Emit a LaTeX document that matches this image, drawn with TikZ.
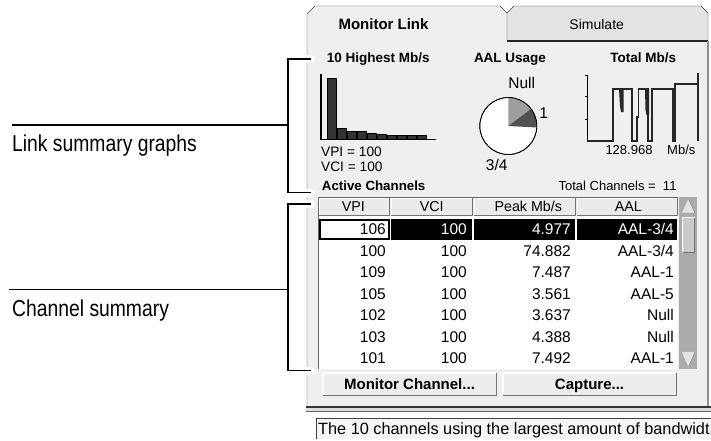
\documentclass[tikz,border=0pt]{standalone}
\usepackage{fontspec}
\setmainfont{Liberation Sans}
\newfontfamily\calloutfont[FakeStretch=0.84]{Liberation Sans}
\definecolor{panelgray}{HTML}{EFEFEF}
\definecolor{tabgray}{HTML}{E3E3E3}
\definecolor{troughgray}{HTML}{ABABAB}
\definecolor{thumbgray}{HTML}{CACACA}
\definecolor{edgegray}{HTML}{8E8E8E}

\begin{document}
\begin{tikzpicture}[x=1pt,y=-1pt,
    txt/.style={inner sep=0pt,font=\fontsize{#1}{#1}\selectfont},
    btxt/.style={inner sep=0pt,font=\fontsize{#1}{#1}\selectfont\bfseries},
    callout/.style={inner sep=0pt,anchor=base west,font=\calloutfont\fontsize{23}{23}\selectfont},
    lead/.style={line width=1.1pt},
    trace/.style={black!85,line width=1.6pt}]
    \useasboundingbox[fill=white] (0,0) rectangle (711,441);

    % panel and tabs
    \fill[panelgray] (307,410)--(307,14)--(315,6)--(500,6)--(507,13)--(507,41)--(708,41)--(708,410)--cycle;
    \fill[tabgray] (507,41)--(507,13)--(514,6)--(701,6)--(708,13)--(708,41)--cycle;
    \draw[black!75] (307,407)--(307,14)--(315,6)--(500,6)--(507,13)--(507,41);
    \draw[black!75] (507,13)--(514,6)--(701,6)--(708,13)--(708,41);
    \draw[black!85,line width=1.5pt] (507,41)--(708,41);
    \draw[edgegray,line width=2pt] (707.5,41)--(707.5,407);
    \fill[black!14] (306,407) rectangle (711,411);
    \draw[black!80,line width=1.2pt] (306,407)--(711,407);
    \draw[black!60] (306,411)--(711,411);
    \node[btxt=15,anchor=base] (tabmon) at (383.5,30) {Monitor Link};
    \node[txt=14,anchor=base] (tabsim) at (596.7,30) {Simulate};

    % status line
    \fill[black!4] (316,418) rectangle (711,439);
    \draw[black!75] (316,439)--(316,418)--(711,418);
    \node[txt=16.3,anchor=base west] (status) at (318,434) {The 10 channels using the largest amount of bandwidt};

    % graph titles
    \node[btxt=13.5,anchor=base] (hbar) at (378.3,63) {10 Highest Mb/s};
    \node[btxt=13.5,anchor=base] (hpie) at (510,63) {AAL Usage};
    \node[btxt=13.5,anchor=base] (htot) at (643.3,63) {Total Mb/s};

    % 10 highest
    \draw[line width=1.2pt] (321,74)--(321,139.3)--(436,139.3);
    \foreach \h [count=\i from 0] in {78,128,131,131,133,134.5,135,135.5,135.7,135.7}
      \draw[fill=black!80,line width=0.8pt] (327+10*\i,139.3) rectangle (336+10*\i,\h);
    \node[txt=13.7,anchor=base west] (vpi) at (321,156.5) {VPI = 100};
    \node[txt=13.7,anchor=base west] (vci) at (321,171.5) {VCI = 100};

    % AAL usage
    \coordinate (pie) at (508.3,126);
    \draw[fill=white] (pie) circle[radius=28.5];
    \fill[black!38] (pie)--++(-90:28.5) arc[start angle=-90,end angle=-37,radius=28.5]--cycle;
    \fill[black!68] (pie)--++(-37:28.5) arc[start angle=-37,end angle=3,radius=28.5]--cycle;
    \draw[line width=0.9pt] (pie) circle[radius=28.5];
    \node[txt=15.5,anchor=base] (pnull) at (521.7,88.5) {Null};
    \node[txt=15.5,anchor=base] (pone) at (543.8,118.5) {1};
    \node[txt=15.5,anchor=base] (pthree) at (496.7,170.5) {3/4};

    % total
    \draw[line width=1pt] (587.3,75)--(587.3,140.7);
    \foreach \t in {75,96.7,119.3}
      \draw (585,\t)--(587.3,\t);
    \draw[trace] (587.3,140.7)--(613,140.7)--(613,89.3)--(632,89.3)--(632,140.7)--(637,140.7)--(637,116.7)
      --(638.5,116.7)--(638.5,89.3)--(648,89.3)--(648,140.7)--(652,140.7)--(652,89.3)--(673,89.3)
      --(673,140.7)--(675,140.7)--(675,84)--(698,84);
    \draw[trace] (698,73.3)--(698,140.7);
    \fill[black!85] (619,89)--(620,106)--(621,112)--(623.5,112)--(623.5,89)--cycle;
    \fill[black!85] (645,89)--(645.5,110)--(646.5,115)--(649,115)--(649,89)--cycle;
    \node[txt=13,anchor=base] (tval) at (629,154) {128.968};
    \node[txt=13,anchor=base] (tunit) at (681.3,154) {Mb/s};

    % channel table
    \node[btxt=13.3,anchor=base west] (active) at (321.7,190) {Active Channels};
    \node[txt=13,anchor=base east] (total) at (676.7,190) {Total Channels =~~11};
    \fill[black!8] (318,197) rectangle (678,216);
    \foreach \a/\b in {318/390,390/473,473/576,576/678}{
      \draw[white] (\a+1,215)--(\a+1,198)--(\b-1,198);
      \draw[black!55] (\a+1,215.5)--(\b-0.5,215.5)--(\b-0.5,198);
    }
    \draw[black!60] (318,369)--(318,197)--(678,197);
    \fill[white] (318.5,216) rectangle (678,369);
    \node[txt=14.3,anchor=base] (cvpi) at (353.3,211) {VPI};
    \node[txt=14.3,anchor=base] (cvci) at (431.7,211) {VCI};
    \node[txt=14.3,anchor=base] (cpeak) at (528.3,211) {Peak Mb/s};
    \node[txt=14.3,anchor=base] (caal) at (628.3,211) {AAL};

    \fill[black] (390.5,218.5) rectangle (677,239.5);
    \draw[white,line width=1.2pt] (473,218.5)--(473,239.5) (576,218.5)--(576,239.5);
    \draw[line width=2pt] (320,219.5) rectangle (389,238.5);
    \node[txt=15.5,anchor=base east] (r0a) at (386,234.5) {106};
    \node[txt=15.5,anchor=base east,white] (r0b) at (467,234.5) {100};
    \node[txt=15.5,anchor=base east,white] (r0c) at (571,234.5) {4.977};
    \node[txt=15.5,anchor=base east,white] (r0d) at (674,234.5) {AAL-3/4};
    \foreach \va/\vb/\vc/\vd [count=\i] in {100/100/74.882/{AAL-3/4},109/100/7.487/AAL-1,
        105/100/3.561/AAL-5,102/100/3.637/Null,103/100/4.388/Null,101/100/7.492/AAL-1}{
      \node[txt=15.5,anchor=base east] (r\i a) at (386,234.5+21.5*\i) {\va};
      \node[txt=15.5,anchor=base east] (r\i b) at (467,234.5+21.5*\i) {\vb};
      \node[txt=15.5,anchor=base east] (r\i c) at (571,234.5+21.5*\i) {\vc};
      \node[txt=15.5,anchor=base east] (r\i d) at (674,234.5+21.5*\i) {\vd};
    }

    % scrollbar
    \fill[troughgray] (679,197) rectangle (697,369);
    \draw[black!15,fill=black!10] (682,213)--(688.5,199)--(695,213)--cycle;
    \draw[black!55] (682,213)--(695,213)--(688.5,199);
    \fill[thumbgray] (682,217) rectangle (695,253);
    \draw[white] (682.5,252.5)--(682.5,217.5)--(694.5,217.5);
    \draw[black!55] (682.5,252.5)--(694.5,252.5)--(694.5,217.5);
    \draw[black!15,fill=black!10] (682,352)--(695,352)--(688.5,367)--cycle;
    \draw[black!55] (695,352)--(688.5,367);

    % buttons
    \foreach \x in {322,502}{
      \fill[black!7] (\x,372) rectangle (\x+175,396);
      \draw[white,line width=1.5pt] (\x+0.75,395.25)--(\x+0.75,372.75)--(\x+174.25,372.75);
      \draw[black!55,line width=1.5pt] (\x+0.75,395.25)--(\x+174.25,395.25)--(\x+174.25,372.75);
    }
    \node[btxt=15,anchor=base] (bmon) at (409.5,389.5) {Monitor Channel...};
    \node[btxt=15,anchor=base] (bcap) at (589.5,389.5) {Capture...};

    % callouts
    \node[callout] (linkgraphs) at (12,151.7) {Link summary graphs};
    \node[callout] (chansum) at (12,316) {Channel summary};
    \coordinate (lg-a) at (12,125);
    \coordinate (lg-b) at (288,125);
    \coordinate (lg-t) at (288,59);
    \coordinate (lg-u) at (288,192.7);
    \coordinate (lg-t1) at (311,59);
    \coordinate (lg-u1) at (311,192.7);
    \coordinate (cs-a) at (9,289.3);
    \coordinate (cs-b) at (288,289.3);
    \coordinate (cs-t) at (288,204);
    \coordinate (cs-u) at (288,370.7);
    \coordinate (cs-t1) at (311,204);
    \coordinate (cs-u1) at (311,370.7);
    \foreach \e in {lg-t1,lg-u1,cs-t1,cs-u1}
      \draw[white,line width=8pt,line cap=round] (\e)--++(-6,0);
    \draw[lead] (lg-a)--(lg-b);
    \draw[lead] (lg-t1)--(lg-t)--(lg-u)--(lg-u1);
    \draw[lead] (cs-a)--(cs-b);
    \draw[lead] (cs-t1)--(cs-t)--(cs-u)--(cs-u1);
\end{tikzpicture}
\end{document}
